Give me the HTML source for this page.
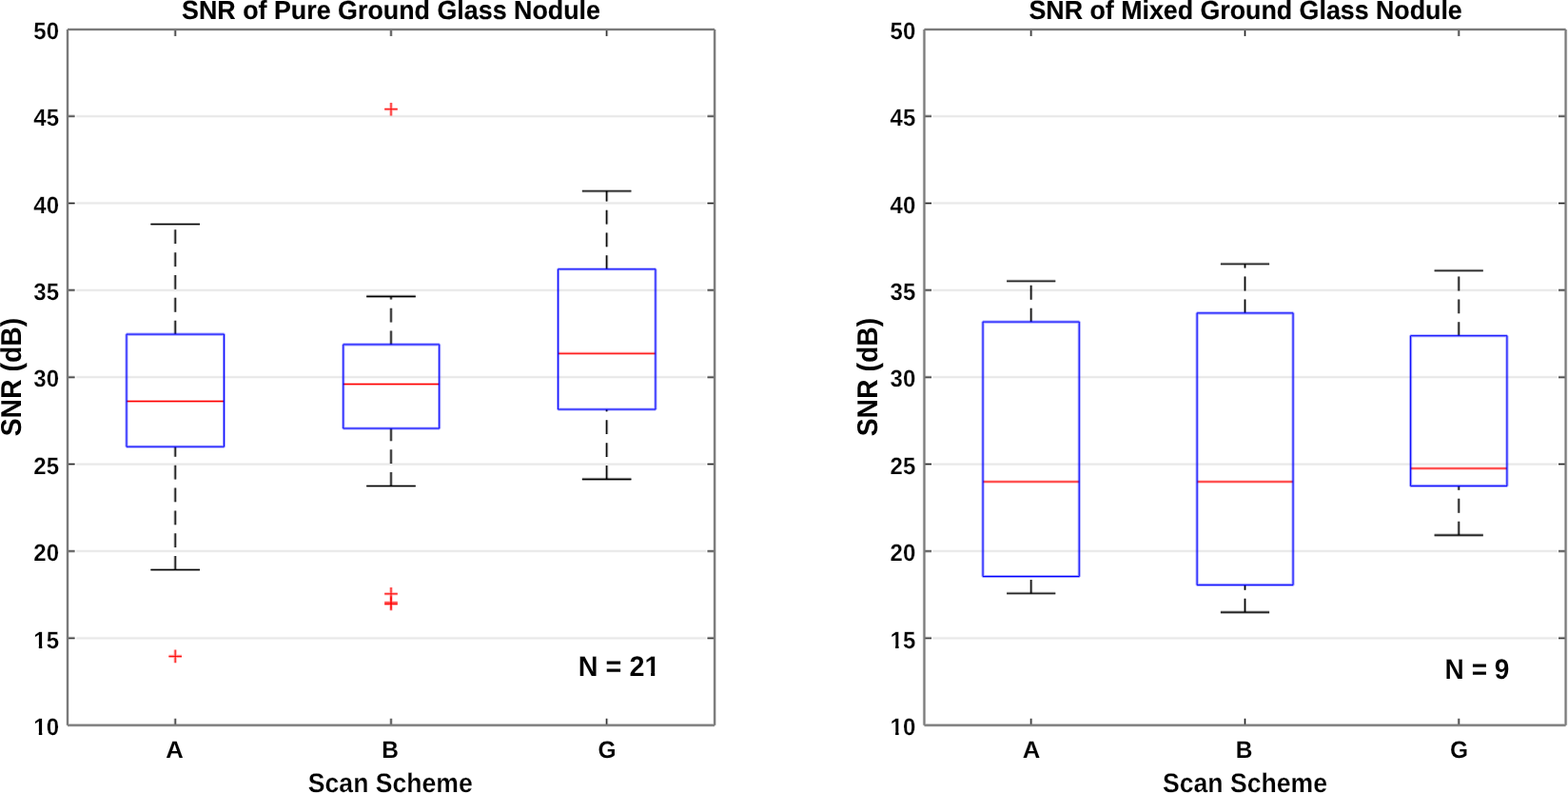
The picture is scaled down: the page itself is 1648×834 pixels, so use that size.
<!DOCTYPE html>
<html lang="en">
<head>
<meta charset="utf-8">
<title>SNR of Ground Glass Nodules by Scan Scheme</title>
<style>
html,body{margin:0;padding:0;background:#ffffff;}
body{width:1648px;height:834px;overflow:hidden;}
svg{display:block;}
text{font-family:"Liberation Sans",Arial,Helvetica,sans-serif;font-weight:bold;fill:#000000;stroke-linejoin:round;text-rendering:geometricPrecision;}
.tk{font-size:24px;stroke:#ffffff;stroke-width:0.2px;}
.xt{font-size:24px;stroke:#ffffff;stroke-width:0.08px;}
.lb{font-size:26.6px;stroke:#ffffff;stroke-width:0.2px;}
.tt{font-size:26.85px;stroke:#000000;stroke-width:0.15px;}
.an{font-size:28.8px;stroke:#ffffff;stroke-width:0.08px;}
.yl{font-size:28.4px;}
path{fill:none;}
.frame{stroke:#7a7a7a;}
.frame.c{stroke-width:2;}
.frame.h{stroke-width:3.4;stroke-opacity:0.3;}
.tick{stroke:#202020;}
.tick.c{stroke-width:1;}
.tick.h{stroke-width:3;stroke-opacity:0.32;}
.grid{stroke:#e8e8e8;}
.grid.c{stroke-width:1.8;}
.grid.h{stroke-width:3.2;stroke-opacity:0.3;}
.box{stroke:#0000ff;}
.box.c{stroke-width:1;}
.box.h{stroke-width:3.1;stroke-opacity:0.35;}
.med{stroke:#ff0000;}
.med.c{stroke-width:1;}
.med.h{stroke-width:3.1;stroke-opacity:0.35;}
.whk{stroke:#000000;}
.whk.c{stroke-width:1.15;}
.whk.h{stroke-width:3.1;stroke-opacity:0.35;}
.cap{stroke:#000000;}
.cap.c{stroke-width:1.1;}
.cap.h{stroke-width:3.1;stroke-opacity:0.35;}
.out{stroke:#ff0000;}
.out.c{stroke-width:1;}
.out.h{stroke-width:3.1;stroke-opacity:0.35;}
.whk{stroke-dasharray:14.8 9.05;stroke-dashoffset:0.4;}
.box{stroke-linejoin:bevel;}
</style>
</head>
<body>
<svg xmlns="http://www.w3.org/2000/svg" width="1648" height="834" viewBox="0 0 1648 834">
<rect x="0" y="0" width="1648" height="834" fill="#ffffff"/>
<g>
<path class="grid h" d="M80.1 670.29H742M80.1 578.92H742M80.1 487.56H742M80.1 396.2H742M80.1 304.84H742M80.1 213.47H742M80.1 122.11H742"/>
<path class="grid c" d="M80.1 670.29H742M80.1 578.92H742M80.1 487.56H742M80.1 396.2H742M80.1 304.84H742M80.1 213.47H742M80.1 122.11H742"/>
<g>
<path class="whk h" d="M184.2 351.1V235.5"/>
<path class="whk c" d="M184.2 351.1V235.5"/>
<path class="whk h" d="M184.2 598.5V469.2"/>
<path class="whk c" d="M184.2 598.5V469.2"/>
<path class="cap h" d="M158.4 235.5H210M158.4 598.5H210"/>
<path class="cap c" d="M158.4 235.5H210M158.4 598.5H210"/>
<path class="med h" d="M133 421.5H235.45"/>
<path class="med c" d="M133 421.5H235.45"/>
<path class="box h" d="M133 351.1H235.45V469.2H133Z"/>
<path class="box c" d="M133 351.1H235.45V469.2H133Z"/>
<path class="out h" d="M177.4 689.4H191M184.2 682.6V696.2"/>
<path class="out c" d="M177.4 689.4H191M184.2 682.6V696.2"/>
</g>
<g>
<path class="whk h" d="M411 361.9V311.35"/>
<path class="whk c" d="M411 361.9V311.35"/>
<path class="whk h" d="M411 510.5V450"/>
<path class="whk c" d="M411 510.5V450"/>
<path class="cap h" d="M385.2 311.35H436.8M385.2 510.5H436.8"/>
<path class="cap c" d="M385.2 311.35H436.8M385.2 510.5H436.8"/>
<path class="med h" d="M360.8 403.5H461.7"/>
<path class="med c" d="M360.8 403.5H461.7"/>
<path class="box h" d="M360.8 361.9H461.7V450H360.8Z"/>
<path class="box c" d="M360.8 361.9H461.7V450H360.8Z"/>
<path class="out h" d="M404.2 114.7H417.8M411 107.9V121.5M404.2 623.8H417.8M411 617V630.6M404.2 633H417.8M411 626.2V639.8M404.2 634.4H417.8M411 627.6V641.2"/>
<path class="out c" d="M404.2 114.7H417.8M411 107.9V121.5M404.2 623.8H417.8M411 617V630.6M404.2 633H417.8M411 626.2V639.8M404.2 634.4H417.8M411 627.6V641.2"/>
</g>
<g>
<path class="whk h" d="M637.65 282.75V200.8"/>
<path class="whk c" d="M637.65 282.75V200.8"/>
<path class="whk h" d="M637.65 503.4V430"/>
<path class="whk c" d="M637.65 503.4V430"/>
<path class="cap h" d="M611.85 200.8H663.45M611.85 503.4H663.45"/>
<path class="cap c" d="M611.85 200.8H663.45M611.85 503.4H663.45"/>
<path class="med h" d="M586.6 371.3H688.95"/>
<path class="med c" d="M586.6 371.3H688.95"/>
<path class="box h" d="M586.6 282.75H688.95V430H586.6Z"/>
<path class="box c" d="M586.6 282.75H688.95V430H586.6Z"/>
</g>
<path class="tick h" d="M71 670.29H78.6M743.5 670.29H751.1M71 578.92H78.6M743.5 578.92H751.1M71 487.56H78.6M743.5 487.56H751.1M71 396.2H78.6M743.5 396.2H751.1M71 304.84H78.6M743.5 304.84H751.1M71 213.47H78.6M743.5 213.47H751.1M71 122.11H78.6M743.5 122.11H751.1M184.2 761.8V754.8M184.2 30.9V37.9M411 761.8V754.8M411 30.9V37.9M637.65 761.8V754.8M637.65 30.9V37.9"/>
<path class="tick c" d="M71 670.29H78.6M743.5 670.29H751.1M71 578.92H78.6M743.5 578.92H751.1M71 487.56H78.6M743.5 487.56H751.1M71 396.2H78.6M743.5 396.2H751.1M71 304.84H78.6M743.5 304.84H751.1M71 213.47H78.6M743.5 213.47H751.1M71 122.11H78.6M743.5 122.11H751.1M184.2 761.8V754.8M184.2 30.9V37.9M411 761.8V754.8M411 30.9V37.9M637.65 761.8V754.8M637.65 30.9V37.9"/>
<path class="frame h" d="M71 30.9H751.1M71 761.8H751.1M71 30.9V761.8M751.1 30.9V761.8"/>
<path class="frame c" d="M71 30.9H751.1M71 761.8H751.1M71 30.9V761.8M751.1 30.9V761.8"/>
<g>
<text class="tk" text-anchor="end" transform="translate(62 772) scale(1 1.04)">10</text>
<g transform="translate(0 772) scale(1 1.04)" fill="#ffffff"><rect x="35.71" y="-3.55" width="5.09" height="4.65"/><rect x="44.3" y="-3.55" width="4.78" height="4.65"/></g>
<text class="tk" text-anchor="end" transform="translate(62 681) scale(1 1.04)">15</text>
<g transform="translate(0 681) scale(1 1.04)" fill="#ffffff"><rect x="35.71" y="-3.55" width="5.09" height="4.65"/><rect x="44.3" y="-3.55" width="4.78" height="4.65"/></g>
<text class="tk" text-anchor="end" transform="translate(62 589) scale(1 1.04)">20</text>
<text class="tk" text-anchor="end" transform="translate(62 498) scale(1 1.04)">25</text>
<text class="tk" text-anchor="end" transform="translate(62 406) scale(1 1.04)">30</text>
<text class="tk" text-anchor="end" transform="translate(62 315) scale(1 1.04)">35</text>
<text class="tk" text-anchor="end" transform="translate(62 224) scale(1 1.04)">40</text>
<text class="tk" text-anchor="end" transform="translate(62 132) scale(1 1.04)">45</text>
<text class="tk" text-anchor="end" transform="translate(62 41) scale(1 1.04)">50</text>
<text class="xt" text-anchor="middle" transform="translate(183.6 796) scale(1.07 1.04)">A</text>
<text class="xt" text-anchor="middle" transform="translate(410.2 796) scale(1.02 1.04)">B</text>
<text class="xt" text-anchor="middle" transform="translate(638.05 796) scale(1.02 1.04)">G</text>
<text class="lb" text-anchor="middle" transform="translate(410.3 832) scale(1 1.06)">Scan Scheme</text>
<text class="yl" text-anchor="middle" transform="translate(21.9 396.05) rotate(-90) scale(1 1.06)">SNR (dB)</text>
<text class="tt" text-anchor="middle" transform="translate(411 20) scale(1 1.03)">SNR of Pure Ground Glass Nodule</text>
<text class="an" transform="translate(607.8 710) scale(1 1.03)">N = 21</text>
<g transform="translate(0 710) scale(1 1.03)" fill="#ffffff"><rect x="678.15" y="-4.04" width="5.91" height="5.14"/><rect x="688.21" y="-4.04" width="5.54" height="5.14"/></g>
</g>
</g>
<g>
<path class="grid h" d="M980.55 670.29H1636.5M980.55 578.92H1636.5M980.55 487.56H1636.5M980.55 396.2H1636.5M980.55 304.84H1636.5M980.55 213.47H1636.5M980.55 122.11H1636.5"/>
<path class="grid c" d="M980.55 670.29H1636.5M980.55 578.92H1636.5M980.55 487.56H1636.5M980.55 396.2H1636.5M980.55 304.84H1636.5M980.55 213.47H1636.5M980.55 122.11H1636.5"/>
<g>
<path class="whk h" d="M1083.7 338.1V295.2"/>
<path class="whk c" d="M1083.7 338.1V295.2"/>
<path class="whk h" d="M1083.7 623.3V605.5"/>
<path class="whk c" d="M1083.7 623.3V605.5"/>
<path class="cap h" d="M1058.1 295.2H1109.3M1058.1 623.3H1109.3"/>
<path class="cap c" d="M1058.1 295.2H1109.3M1058.1 623.3H1109.3"/>
<path class="med h" d="M1033.05 506H1134.25"/>
<path class="med c" d="M1033.05 506H1134.25"/>
<path class="box h" d="M1033.05 338.1H1134.25V605.5H1033.05Z"/>
<path class="box c" d="M1033.05 338.1H1134.25V605.5H1033.05Z"/>
</g>
<g>
<path class="whk h" d="M1308.5 328.85V277.3"/>
<path class="whk c" d="M1308.5 328.85V277.3"/>
<path class="whk h" d="M1308.5 643.1V614.4"/>
<path class="whk c" d="M1308.5 643.1V614.4"/>
<path class="cap h" d="M1282.9 277.3H1334.1M1282.9 643.1H1334.1"/>
<path class="cap c" d="M1282.9 277.3H1334.1M1282.9 643.1H1334.1"/>
<path class="med h" d="M1258.15 506H1359.05"/>
<path class="med c" d="M1258.15 506H1359.05"/>
<path class="box h" d="M1258.15 328.85H1359.05V614.4H1258.15Z"/>
<path class="box c" d="M1258.15 328.85H1359.05V614.4H1258.15Z"/>
</g>
<g>
<path class="whk h" d="M1533.2 352.7V284.2"/>
<path class="whk c" d="M1533.2 352.7V284.2"/>
<path class="whk h" d="M1533.2 562.1V510.4"/>
<path class="whk c" d="M1533.2 562.1V510.4"/>
<path class="cap h" d="M1507.6 284.2H1558.8M1507.6 562.1H1558.8"/>
<path class="cap c" d="M1507.6 284.2H1558.8M1507.6 562.1H1558.8"/>
<path class="med h" d="M1482.6 492H1583.9"/>
<path class="med c" d="M1482.6 492H1583.9"/>
<path class="box h" d="M1482.6 352.7H1583.9V510.4H1482.6Z"/>
<path class="box c" d="M1482.6 352.7H1583.9V510.4H1482.6Z"/>
</g>
<path class="tick h" d="M971.45 670.29H979.05M1638 670.29H1645.6M971.45 578.92H979.05M1638 578.92H1645.6M971.45 487.56H979.05M1638 487.56H1645.6M971.45 396.2H979.05M1638 396.2H1645.6M971.45 304.84H979.05M1638 304.84H1645.6M971.45 213.47H979.05M1638 213.47H1645.6M971.45 122.11H979.05M1638 122.11H1645.6M1083.7 761.8V754.8M1083.7 30.9V37.9M1308.5 761.8V754.8M1308.5 30.9V37.9M1533.2 761.8V754.8M1533.2 30.9V37.9"/>
<path class="tick c" d="M971.45 670.29H979.05M1638 670.29H1645.6M971.45 578.92H979.05M1638 578.92H1645.6M971.45 487.56H979.05M1638 487.56H1645.6M971.45 396.2H979.05M1638 396.2H1645.6M971.45 304.84H979.05M1638 304.84H1645.6M971.45 213.47H979.05M1638 213.47H1645.6M971.45 122.11H979.05M1638 122.11H1645.6M1083.7 761.8V754.8M1083.7 30.9V37.9M1308.5 761.8V754.8M1308.5 30.9V37.9M1533.2 761.8V754.8M1533.2 30.9V37.9"/>
<path class="frame h" d="M971.45 30.9H1645.6M971.45 761.8H1645.6M971.45 30.9V761.8M1645.6 30.9V761.8"/>
<path class="frame c" d="M971.45 30.9H1645.6M971.45 761.8H1645.6M971.45 30.9V761.8M1645.6 30.9V761.8"/>
<g>
<text class="tk" text-anchor="end" transform="translate(962.3 772) scale(1 1.04)">10</text>
<g transform="translate(0 772) scale(1 1.04)" fill="#ffffff"><rect x="936.01" y="-3.55" width="5.09" height="4.65"/><rect x="944.6" y="-3.55" width="4.78" height="4.65"/></g>
<text class="tk" text-anchor="end" transform="translate(962.3 681) scale(1 1.04)">15</text>
<g transform="translate(0 681) scale(1 1.04)" fill="#ffffff"><rect x="936.01" y="-3.55" width="5.09" height="4.65"/><rect x="944.6" y="-3.55" width="4.78" height="4.65"/></g>
<text class="tk" text-anchor="end" transform="translate(962.3 589) scale(1 1.04)">20</text>
<text class="tk" text-anchor="end" transform="translate(962.3 498) scale(1 1.04)">25</text>
<text class="tk" text-anchor="end" transform="translate(962.3 406) scale(1 1.04)">30</text>
<text class="tk" text-anchor="end" transform="translate(962.3 315) scale(1 1.04)">35</text>
<text class="tk" text-anchor="end" transform="translate(962.3 224) scale(1 1.04)">40</text>
<text class="tk" text-anchor="end" transform="translate(962.3 132) scale(1 1.04)">45</text>
<text class="tk" text-anchor="end" transform="translate(962.3 41) scale(1 1.04)">50</text>
<text class="xt" text-anchor="middle" transform="translate(1084.1 796) scale(1.07 1.04)">A</text>
<text class="xt" text-anchor="middle" transform="translate(1307.7 796) scale(1.02 1.04)">B</text>
<text class="xt" text-anchor="middle" transform="translate(1533.6 796) scale(1.02 1.04)">G</text>
<text class="lb" text-anchor="middle" transform="translate(1308.5 832) scale(1 1.06)">Scan Scheme</text>
<text class="yl" text-anchor="middle" transform="translate(921.9 396.05) rotate(-90) scale(1 1.06)">SNR (dB)</text>
<text class="tt" text-anchor="middle" transform="translate(1309.1 20) scale(0.9976 1.03)">SNR of Mixed Ground Glass Nodule</text>
<text class="an" transform="translate(1518.6 713) scale(0.975 1.03)">N = 9</text>
</g>
</g>
</svg>
</body>
</html>
